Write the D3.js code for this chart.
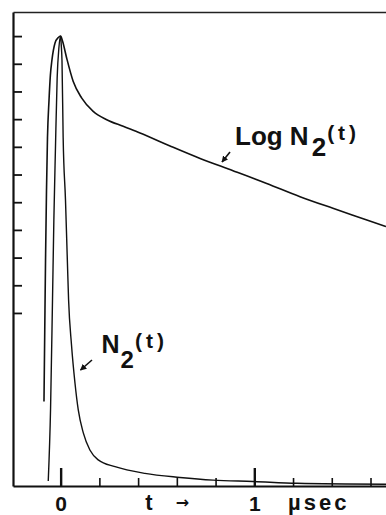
<!DOCTYPE html>
<html>
<head>
<meta charset="utf-8">
<script src="https://cdn.jsdelivr.net/npm/d3@7/dist/d3.min.js"></script>
<style>
  html, body { margin: 0; padding: 0; background: #fff; }
  svg { display: block; }
  text { font-family: "Liberation Sans", Arial, sans-serif; font-weight: bold; fill: #111; }
</style>
</head>
<body>
<svg id="chart" width="386" height="515"></svg>
<script>
// ---- data (t in microseconds) ----
// linear N2(t), relative to peak = 1
const linT = [-0.064, -0.052, -0.042, -0.035, -0.027, -0.018, -0.009, 0.0,
              0.003, 0.007, 0.013, 0.025, 0.035, 0.041, 0.056, 0.074, 0.091, 0.117,
              0.151, 0.194, 0.281, 0.435, 0.616, 0.787, 0.993, 1.221, 1.680];
const linV = [0.011, 0.173, 0.414, 0.592, 0.747, 0.907, 0.974, 1.0,
              0.981, 0.945, 0.774, 0.636, 0.496, 0.414, 0.314, 0.229, 0.169, 0.118,
              0.080, 0.058, 0.043, 0.028, 0.019, 0.013, 0.010, 0.006, 0.004];
// Log N2(t), in y-tick units (peak at top tick = 10)
const logT = [-0.086, -0.082, -0.078, -0.073, -0.068, -0.060, -0.053, -0.045, -0.029, -0.012, 0.0,
              0.010, 0.031, 0.065, 0.109, 0.168, 0.238, 0.323, 0.410, 0.565, 0.720, 0.890,
              1.064, 1.236, 1.406, 1.581, 1.680];
const logV = [-3.20, -0.61, 1.91, 4.44, 6.32, 7.69, 8.59, 9.13, 9.75, 9.95, 10.0,
              9.81, 9.21, 8.36, 7.76, 7.28, 6.98, 6.74, 6.50, 6.03, 5.58, 5.14,
              4.68, 4.20, 3.78, 3.36, 3.12];
const xTicks = [0, 0.2, 0.4, 0.6, 0.8, 1.0, 1.2, 1.4, 1.6];
const xMajor = [0, 1];
const yTicks = [0, 1, 2, 3, 4, 5, 6, 7, 8, 9, 10];

// ---- scales ----
const svg = d3.select("#chart");
const x = d3.scaleLinear().domain([-0.246, 1.68]).range([13, 386]);
const yLog = d3.scaleLinear().domain([-6.25, 10.87]).range([486, 12]);
const yLin = d3.scaleLinear().domain([0, 1]).range([yLog(-6.25), yLog(10)]);

// ---- axes ----
const gx = svg.append("g").attr("transform", `translate(0,${yLog(-6.25)})`)
  .call(d3.axisBottom(x).tickValues(xTicks).tickSizeInner(-8).tickSizeOuter(0).tickPadding(10)
        .tickFormat(d => xMajor.includes(d) ? d3.format("d")(d) : ""));
gx.select(".domain").attr("stroke", "#111").attr("stroke-width", 2);
gx.selectAll(".tick line").attr("stroke", "#111").attr("stroke-width", 1.6)
  .filter(d => xMajor.includes(d)).attr("y2", -18).attr("stroke-width", 2.4);
gx.selectAll(".tick text").attr("font-size", 21).attr("font-family", "Liberation Sans, Arial, sans-serif")
  .attr("font-weight", "bold").attr("fill", "#111");

const gy = svg.append("g").attr("transform", `translate(${x(-0.246)},0)`)
  .call(d3.axisLeft(yLog).tickValues(yTicks).tickSizeInner(-9).tickSizeOuter(0).tickFormat(""));
gy.select(".domain").attr("stroke", "#111").attr("stroke-width", 2.2);
gy.selectAll(".tick line").attr("stroke", "#111").attr("stroke-width", 1.8);

const gt = svg.append("g").attr("transform", `translate(0,${yLog(10.87)})`)
  .call(d3.axisTop(x).tickValues([]).tickSizeOuter(0));
gt.select(".domain").attr("stroke", "#222").attr("stroke-width", 1.4);

// ---- curves ----
const logData = logT.map((t, i) => [t, logV[i]]);
const linData = linT.map((t, i) => [t, linV[i]]);
svg.append("path").datum(logData)
  .attr("fill", "none").attr("stroke", "#111").attr("stroke-width", 1.6)
  .attr("d", d3.line().x(d => x(d[0])).y(d => yLog(d[1])).curve(d3.curveMonotoneX));
svg.append("path").datum(linData)
  .attr("fill", "none").attr("stroke", "#111").attr("stroke-width", 1.4)
  .attr("d", d3.line().x(d => x(d[0])).y(d => yLin(d[1])).curve(d3.curveMonotoneX));

// ---- arrows ----
const defs = svg.append("defs");
defs.append("marker").attr("id", "ah").attr("viewBox", "0 0 10 10").attr("refX", 9).attr("refY", 5)
  .attr("markerWidth", 4).attr("markerHeight", 4).attr("orient", "auto")
  .append("path").attr("d", "M0,0 L10,5 L0,10 Z").attr("fill", "#111");
function arrow(x1, y1, x2, y2) {
  svg.append("line").attr("x1", x1).attr("y1", y1).attr("x2", x2).attr("y2", y2)
    .attr("stroke", "#111").attr("stroke-width", 1.6).attr("marker-end", "url(#ah)");
}
arrow(230, 152, 222, 162);
arrow(92, 360, 80.5, 370);

// ---- labels ----
const lab1 = svg.append("text").attr("x", 235).attr("y", 145).attr("font-size", 26);
lab1.append("tspan").text("Log N");
lab1.append("tspan").attr("dx", 3).attr("dy", 11).text("2");
lab1.append("tspan").attr("dy", -16.4).attr("dx", 1).attr("font-size", 21).attr("letter-spacing", 4).text("(t)");

const lab2 = svg.append("text").attr("x", 101.5).attr("y", 353).attr("font-size", 25);
lab2.append("tspan").text("N");
lab2.append("tspan").attr("dx", 1).attr("dy", 15).attr("font-size", 24).text("2");
lab2.append("tspan").attr("dy", -20.4).attr("dx", 1).attr("font-size", 21).attr("letter-spacing", 4).text("(t)");

svg.append("text").attr("x", 149).attr("y", 510).attr("font-size", 22).attr("text-anchor", "middle").text("t");
svg.append("text").attr("x", 182.5).attr("y", 508).attr("font-size", 16).attr("text-anchor", "middle")
  .style("font-family", "DejaVu Sans, sans-serif").style("font-weight", "bold").text("→");
svg.append("text").attr("x", 288).attr("y", 510).attr("font-size", 22).attr("letter-spacing", 3).text("µsec");
</script>
</body>
</html>
